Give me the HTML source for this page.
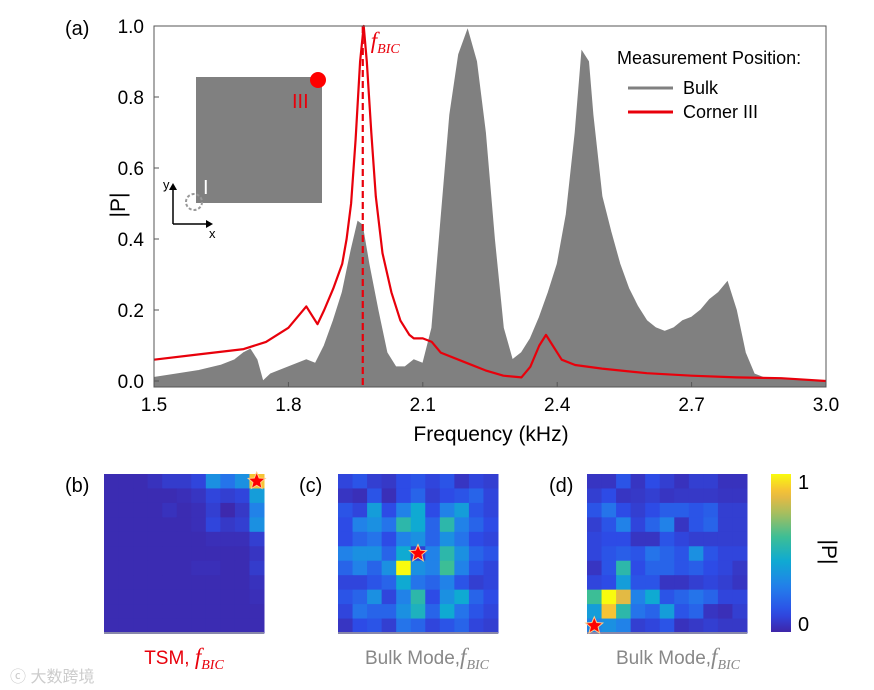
<!DOCTYPE html>
<html><head><meta charset="utf-8"><style>
body{margin:0;background:#fff}
svg{display:block;font-family:"Liberation Sans",Arial,sans-serif}
</style></head><body>
<svg id="fig" width="874" height="690" viewBox="0 0 874 690" xmlns="http://www.w3.org/2000/svg">
<g id="main"></g>
<g id="maps"></g>
</svg>
<script>
const NS="http://www.w3.org/2000/svg";
// ---- spectrum data ----
const bulkFreq=[1.5,1.55,1.6,1.65,1.68,1.70,1.715,1.73,1.743,1.76,1.8,1.84,1.86,1.88,1.9,1.92,1.94,1.955,1.965,1.98,2.0,2.02,2.04,2.06,2.08,2.1,2.12,2.14,2.16,2.18,2.2,2.22,2.24,2.26,2.28,2.3,2.32,2.34,2.36,2.38,2.4,2.42,2.44,2.455,2.47,2.48,2.5,2.52,2.54,2.56,2.58,2.6,2.62,2.64,2.66,2.68,2.7,2.72,2.74,2.76,2.78,2.8,2.82,2.84,2.86,2.9,3.0];
const bulkVal=[0.01,0.02,0.03,0.045,0.06,0.08,0.09,0.06,0.0,0.02,0.04,0.06,0.05,0.1,0.17,0.25,0.37,0.45,0.44,0.33,0.2,0.08,0.04,0.04,0.06,0.05,0.15,0.45,0.75,0.92,0.99,0.9,0.7,0.4,0.15,0.06,0.08,0.12,0.18,0.25,0.33,0.47,0.7,0.93,0.9,0.75,0.52,0.42,0.33,0.26,0.21,0.17,0.15,0.14,0.15,0.17,0.18,0.2,0.23,0.25,0.28,0.2,0.08,0.02,0.01,0.005,0.0];
const cornerFreq=[1.5,1.6,1.7,1.75,1.8,1.82,1.84,1.855,1.865,1.88,1.9,1.92,1.93,1.94,1.95,1.96,1.968,1.975,1.985,1.995,2.01,2.03,2.05,2.07,2.08,2.1,2.12,2.14,2.2,2.24,2.28,2.32,2.34,2.36,2.375,2.39,2.41,2.44,2.5,2.6,2.7,2.8,2.9,3.0];
const cornerVal=[0.06,0.075,0.09,0.11,0.15,0.18,0.21,0.18,0.16,0.2,0.26,0.33,0.4,0.5,0.68,0.9,1.0,0.9,0.7,0.52,0.36,0.25,0.17,0.13,0.12,0.12,0.11,0.08,0.05,0.03,0.015,0.01,0.04,0.1,0.13,0.1,0.06,0.045,0.035,0.022,0.015,0.01,0.008,0.0];
const xTicks=[1.5,1.8,2.1,2.4,2.7,3.0];
const yTicks=[0,0.2,0.4,0.6,0.8,1.0];
const fBIC=1.966;
// ---- heatmap data (rows top to bottom) ----
const mapB=[
[0.02,0.02,0.02,0.04,0.07,0.07,0.1,0.35,0.25,0.35,0.9],
[0.02,0.02,0.02,0.02,0.02,0.03,0.05,0.1,0.08,0.1,0.4],
[0.02,0.02,0.02,0.02,0.04,0.02,0.03,0.08,0.01,0.06,0.3],
[0.02,0.02,0.02,0.02,0.02,0.02,0.03,0.1,0.06,0.08,0.35],
[0.02,0.02,0.02,0.02,0.02,0.02,0.02,0.03,0.03,0.03,0.08],
[0.02,0.02,0.02,0.02,0.02,0.02,0.02,0.02,0.02,0.02,0.05],
[0.02,0.02,0.02,0.02,0.02,0.02,0.03,0.03,0.02,0.02,0.07],
[0.02,0.02,0.02,0.02,0.02,0.02,0.02,0.02,0.02,0.02,0.04],
[0.02,0.02,0.02,0.02,0.02,0.02,0.02,0.02,0.02,0.02,0.03],
[0.02,0.02,0.02,0.02,0.02,0.02,0.02,0.02,0.02,0.02,0.02],
[0.02,0.02,0.02,0.02,0.02,0.02,0.02,0.02,0.02,0.02,0.02]];
const mapC=[
[0.1,0.15,0.08,0.06,0.12,0.15,0.1,0.15,0.05,0.1,0.08],
[0.05,0.03,0.15,0.03,0.12,0.2,0.08,0.12,0.15,0.2,0.1],
[0.15,0.1,0.4,0.12,0.3,0.45,0.12,0.3,0.4,0.15,0.1],
[0.12,0.3,0.35,0.25,0.55,0.45,0.2,0.55,0.3,0.2,0.12],
[0.12,0.2,0.25,0.12,0.3,0.35,0.2,0.35,0.25,0.12,0.1],
[0.3,0.35,0.35,0.2,0.45,0.08,0.3,0.55,0.35,0.2,0.15],
[0.2,0.3,0.2,0.35,1.0,0.35,0.3,0.6,0.3,0.15,0.1],
[0.1,0.1,0.15,0.2,0.45,0.25,0.2,0.3,0.15,0.08,0.1],
[0.15,0.2,0.35,0.1,0.3,0.55,0.12,0.35,0.45,0.2,0.12],
[0.1,0.25,0.2,0.2,0.35,0.5,0.2,0.45,0.25,0.15,0.1],
[0.05,0.12,0.15,0.08,0.25,0.2,0.1,0.15,0.2,0.1,0.08]];
const mapD=[
[0.05,0.05,0.15,0.05,0.12,0.08,0.04,0.08,0.08,0.04,0.04],
[0.08,0.12,0.05,0.06,0.08,0.05,0.06,0.06,0.06,0.05,0.05],
[0.15,0.25,0.12,0.08,0.12,0.18,0.18,0.15,0.18,0.08,0.08],
[0.08,0.15,0.3,0.1,0.2,0.3,0.05,0.15,0.2,0.08,0.08],
[0.1,0.12,0.12,0.05,0.05,0.15,0.1,0.08,0.08,0.08,0.08],
[0.1,0.15,0.18,0.15,0.25,0.2,0.15,0.35,0.15,0.1,0.1],
[0.05,0.15,0.55,0.12,0.2,0.2,0.15,0.18,0.12,0.1,0.06],
[0.1,0.12,0.4,0.15,0.15,0.05,0.05,0.08,0.1,0.08,0.05],
[0.6,1.0,0.85,0.3,0.45,0.15,0.2,0.25,0.2,0.1,0.1],
[0.4,0.9,0.55,0.25,0.2,0.4,0.15,0.2,0.05,0.03,0.08],
[0.3,0.35,0.3,0.08,0.1,0.15,0.04,0.06,0.08,0.06,0.06]];

function el(tag,attrs,parent,text){const e=document.createElementNS(NS,tag);for(const k in attrs)e.setAttribute(k,attrs[k]);if(text!==undefined)e.textContent=text;parent.appendChild(e);return e;}
const main=document.getElementById('main');
const X0=154,X1=826,Y0=381,Ytop=26,Ybot=387;
const sx=f=>X0+(f-1.5)/(3.0-1.5)*(X1-X0);
const sy=v=>Y0-v*(Y0-Ytop);

let d='M'+sx(bulkFreq[0])+','+sy(0);
bulkFreq.forEach((f,i)=>{d+=' L'+sx(f).toFixed(1)+','+sy(bulkVal[i]).toFixed(1);});
d+=' L'+sx(bulkFreq[bulkFreq.length-1])+','+Ybot+' L'+sx(bulkFreq[0])+','+Ybot+' Z';
const ba=el('path',{d:d,fill:'#808080',stroke:'#808080','stroke-width':'0.8'},main);


let d2='';
cornerFreq.forEach((f,i)=>{d2+=(i?' L':'M')+sx(f).toFixed(1)+','+sy(cornerVal[i]).toFixed(1);});
const cl=el('path',{d:d2,fill:'none',stroke:'#e8000b','stroke-width':'2.2','stroke-linejoin':'round'},main);


const fl=el('line',{x1:sx(fBIC),x2:sx(fBIC),y1:Ytop,y2:Ybot,stroke:'#e8000b','stroke-width':'2.2','stroke-dasharray':'7,4'},main);


const ft=el('text',{x:sx(fBIC)+8,y:48,fill:'#e8000b','font-family':'Liberation Serif,serif','font-style':'italic','font-size':'23'},main,'f');


el('tspan',{dy:'5','font-size':'14'},ft,'BIC');
const box=el('rect',{x:X0,y:Ytop,width:X1-X0,height:Ybot-Ytop,fill:'none',stroke:'#555','stroke-width':'1'},main);


xTicks.forEach(t=>{
  const ln=el('line',{x1:sx(t),x2:sx(t),y1:Ybot,y2:Ybot-5,stroke:'#555'},main);
  
  
  const tx=el('text',{x:sx(t),y:411,'text-anchor':'middle','font-size':'19'},main,t.toFixed(1));
  
  
});
yTicks.forEach(t=>{
  const ln=el('line',{x1:X0,x2:X0+5,y1:sy(t),y2:sy(t),stroke:'#555'},main);
  
  
  const tx=el('text',{x:144,y:sy(t)+7,'text-anchor':'end','font-size':'19'},main,t.toFixed(1));
  
  
});
</script>
<script>
(function(){
const m=document.getElementById('main');
m.insertAdjacentHTML('beforeend',`
<text x="491" y="441" text-anchor="middle" font-size="21">Frequency (kHz)</text>
<text x="0" y="0" transform="translate(125,205) rotate(-90)" text-anchor="middle" font-size="21">|P|</text>
<text x="65" y="35" font-size="20">(a)</text>
<g>
<text x="617" y="64" font-size="18">Measurement Position:</text>
<line x1="628" x2="673" y1="88" y2="88" stroke="#808080" stroke-width="3"/>
<text x="683" y="94" font-size="18">Bulk</text>
<line x1="628" x2="673" y1="112" y2="112" stroke="#e8000b" stroke-width="3"/>
<text x="683" y="118" font-size="18">Corner III</text>
</g>
<g>
<rect x="196" y="77" width="126" height="126" fill="#808080"/>
<circle cx="318" cy="80" r="8" fill="#ff0000"/>
<text x="292" y="108" font-size="20" fill="#e8000b">III</text>
<text x="203" y="194" font-size="20" fill="#fff">I</text>
<circle cx="194" cy="202" r="8" fill="none" stroke="#999" stroke-width="2" stroke-dasharray="3,2"/>
<line x1="173" y1="224" x2="173" y2="188" stroke="#000" stroke-width="1.5"/>
<path d="M169,190 L173,183 L177,190 Z" fill="#000"/>
<line x1="173" y1="224" x2="208" y2="224" stroke="#000" stroke-width="1.5"/>
<path d="M206,220 L213,224 L206,228 Z" fill="#000"/>
<text x="163" y="189" font-size="13">y</text>
<text x="209" y="238" font-size="13">x</text>
</g>`);
})();
</script>
<script>
(function(){
const maps=document.getElementById('maps');
const stops=[[0,62,38,168],[0.12,45,75,230],[0.28,35,125,235],[0.45,15,170,210],[0.6,60,190,150],[0.75,165,190,95],[0.88,245,185,60],[1,249,251,14]];
function parula(v){v=Math.max(0,Math.min(1,v));for(let i=1;i<stops.length;i++){if(v<=stops[i][0]){const a=stops[i-1],b=stops[i],t=(v-a[0])/(b[0]-a[0]);return `rgb(${Math.round(a[1]+t*(b[1]-a[1]))},${Math.round(a[2]+t*(b[2]-a[2]))},${Math.round(a[3]+t*(b[3]-a[3]))})`;}}return 'rgb(249,251,14)';}
function star(cx,cy,r){let p='';for(let i=0;i<10;i++){const rr=i%2?r*0.45:r;const a=-Math.PI/2+i*Math.PI/5;p+=(i?'L':'M')+(cx+rr*Math.cos(a)).toFixed(1)+','+(cy+rr*Math.sin(a)).toFixed(1);}return p+'Z';}
const panels=[{data:mapB,x:104,name:'heatmap-b',star:[10,0]},{data:mapC,x:338,name:'heatmap-c',star:[5,5]},{data:mapD,x:587,name:'heatmap-d',star:[0,10]}];
const Y=474,W=160,H=159,n=11,cw=W/n,ch=H/n;
panels.forEach(p=>{
  const g=document.createElementNS(NS,'g');
  
  
  maps.appendChild(g);
  p.data.forEach((row,r)=>row.forEach((v,c)=>{
    const rc=document.createElementNS(NS,'rect');
    rc.setAttribute('x',(p.x+c*cw).toFixed(2));rc.setAttribute('y',(Y+r*ch).toFixed(2));
    rc.setAttribute('width',(cw+0.5).toFixed(2));rc.setAttribute('height',(ch+0.5).toFixed(2));
    rc.setAttribute('fill',parula(v));
    
    
    g.appendChild(rc);
  }));
  const bl=document.createElementNS(NS,'line');
  bl.setAttribute('x1',p.x);bl.setAttribute('x2',p.x+W);bl.setAttribute('y1',Y+H);bl.setAttribute('y2',Y+H);
  bl.setAttribute('stroke','#8888aa');bl.setAttribute('stroke-width','2');g.appendChild(bl);
  const s=document.createElementNS(NS,'path');
  s.setAttribute('d',star(p.x+(p.star[0]+0.5)*cw,Y+(p.star[1]+0.5)*ch,9));
  s.setAttribute('fill','#ff0000');s.setAttribute('stroke','#ffcc88');s.setAttribute('stroke-width','1');
  
  
  g.appendChild(s);
});
const defs=document.createElementNS(NS,'defs');maps.appendChild(defs);
const lg=document.createElementNS(NS,'linearGradient');lg.setAttribute('id','cb');lg.setAttribute('x1','0');lg.setAttribute('y1','1');lg.setAttribute('x2','0');lg.setAttribute('y2','0');defs.appendChild(lg);
for(let i=0;i<=20;i++){const st=document.createElementNS(NS,'stop');st.setAttribute('offset',i/20);st.setAttribute('stop-color',parula(i/20));lg.appendChild(st);}
const cb=document.createElementNS(NS,'rect');
cb.setAttribute('x',771);cb.setAttribute('y',474);cb.setAttribute('width',20);cb.setAttribute('height',158);cb.setAttribute('fill','url(#cb)');


maps.appendChild(cb);
maps.insertAdjacentHTML('beforeend',`
<text x="798" y="489" font-size="20">1</text>
<text x="798" y="631" font-size="20">0</text>
<text transform="translate(822,552) rotate(90)" text-anchor="middle" font-size="21">|P|</text>
<text x="65" y="492" font-size="20">(b)</text>
<text x="299" y="492" font-size="20">(c)</text>
<text x="549" y="492" font-size="20">(d)</text>
<text x="184" y="664" text-anchor="middle" font-size="19" fill="#e8000b">TSM, <tspan font-family="Liberation Serif,serif" font-style="italic" font-size="23">f</tspan><tspan font-family="Liberation Serif,serif" font-style="italic" font-size="14" dy="5">BIC</tspan></text>
<text x="427" y="664" text-anchor="middle" font-size="19" fill="#888">Bulk Mode,<tspan font-family="Liberation Serif,serif" font-style="italic" font-size="23">f</tspan><tspan font-family="Liberation Serif,serif" font-style="italic" font-size="14" dy="5">BIC</tspan></text>
<text x="678" y="664" text-anchor="middle" font-size="19" fill="#888">Bulk Mode,<tspan font-family="Liberation Serif,serif" font-style="italic" font-size="23">f</tspan><tspan font-family="Liberation Serif,serif" font-style="italic" font-size="14" dy="5">BIC</tspan></text>
<text x="10" y="682" font-size="16" fill="#ccc" font-family="Liberation Sans,Noto Sans CJK SC,sans-serif">ⓒ 大数跨境</text>`);
})();
</script>
</body></html>
